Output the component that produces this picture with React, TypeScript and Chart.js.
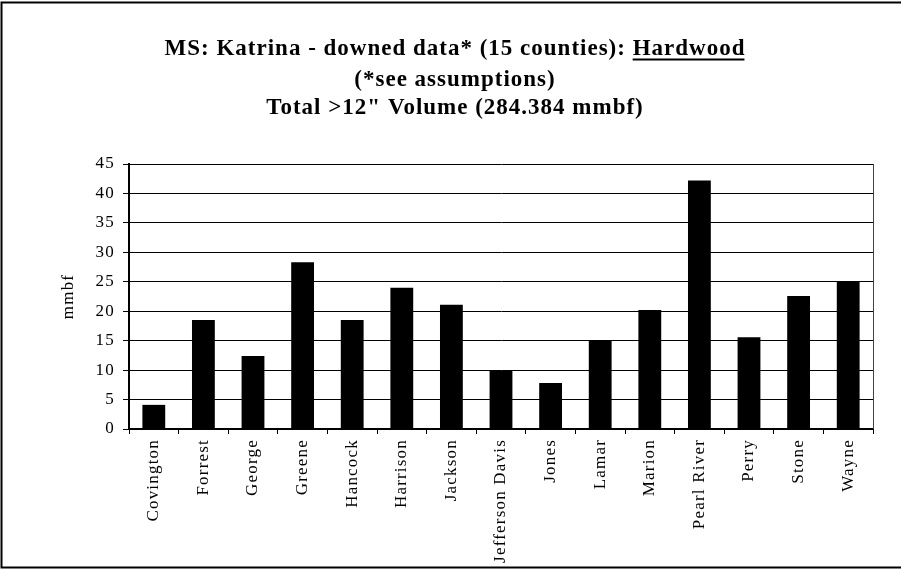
import React, { useEffect, useRef } from 'react';
import { Chart, registerables } from 'chart.js';

Chart.register(...registerables);

const categories = [
  'Covington', 'Forrest', 'George', 'Greene', 'Hancock', 'Harrison', 'Jackson',
  'Jefferson Davis', 'Jones', 'Lamar', 'Marion', 'Pearl River', 'Perry', 'Stone', 'Wayne',
];
const hardwoodMmbf = [4.1, 18.5, 12.4, 28.3, 18.5, 24.0, 21.1, 9.9, 7.8, 15.0, 20.2, 42.2, 15.6, 22.6, 25.1];
const yMin = 0;
const yMax = 45;
const yStep = 5;
const titlePrefix = 'MS: Katrina - downed data* (15 counties): ';
const titleUnderlined = 'Hardwood';
const titleLine2 = '(*see assumptions)';
const titleLine3 = 'Total >12" Volume (284.384 mmbf)';
const yAxisTitle = 'mmbf';

const SERIF = "'Liberation Serif', 'Times New Roman', serif";

const decorPlugin = {
  id: 'decor',
  beforeDraw(chart: any) {
    const ctx = chart.ctx;
    ctx.letterSpacing = '1.2px';
  },
  afterDraw(chart: any) {
    const ctx = chart.ctx;
    const { chartArea } = chart;
    ctx.save();
    // outer frame
    ctx.strokeStyle = '#000';
    ctx.lineWidth = 2;
    ctx.beginPath();
    ctx.moveTo(940, 2.5);
    ctx.lineTo(1.5, 2.5);
    ctx.lineTo(1.5, 567.5);
    ctx.lineTo(940, 567.5);
    ctx.stroke();
    // plot right border
    ctx.strokeStyle = '#444';
    ctx.lineWidth = 1;
    ctx.beginPath();
    ctx.moveTo(Math.round(chartArea.right) + 0.5, chartArea.top);
    ctx.lineTo(Math.round(chartArea.right) + 0.5, chartArea.bottom);
    ctx.stroke();
    // title
    ctx.letterSpacing = '1px';
    ctx.font = `bold 23px ${SERIF}`;
    ctx.fillStyle = '#000';
    ctx.textBaseline = 'alphabetic';
    ctx.textAlign = 'left';
    const cx = 455;
    const line1 = titlePrefix + titleUnderlined;
    const w1 = ctx.measureText(line1).width;
    const x1 = cx - w1 / 2;
    ctx.fillText(line1, x1, 55);
    const wPrefix = ctx.measureText(titlePrefix).width;
    const wU = ctx.measureText(titleUnderlined).width - 1;
    ctx.fillRect(x1 + wPrefix, 58.5, wU, 2);
    ctx.textAlign = 'center';
    ctx.fillText(titleLine2, cx, 86);
    ctx.fillText(titleLine3, cx, 114);
    ctx.restore();
  },
};

export default function App() {
  const ref = useRef<HTMLCanvasElement | null>(null);
  useEffect(() => {
    if (!ref.current) return;
    const chart = new Chart(ref.current, {
      type: 'bar',
      data: {
        labels: categories,
        datasets: [
          {
            data: hardwoodMmbf,
            backgroundColor: '#000',
            borderColor: '#000',
            borderWidth: 0,
            barPercentage: 0.46,
            categoryPercentage: 1,
          },
        ],
      },
      options: {
        responsive: false,
        animation: false,
        layout: { padding: { top: 164, right: 28, left: 0, bottom: 0 } },
        plugins: {
          legend: { display: false },
          title: { display: false },
          tooltip: { enabled: false },
        },
        scales: {
          x: {
            grid: {
              display: true,
              drawOnChartArea: false,
              drawTicks: true,
              tickLength: 5,
              color: '#000',
              offset: true,
            },
            border: { display: true, color: '#000', width: 2 },
            ticks: {
              autoSkip: false,
              maxRotation: 90,
              minRotation: 90,
              padding: 5,
              color: '#000',
              font: { family: SERIF, size: 17 },
            },
            afterFit(scale: any) {
              scale.height = 140;
            },
          },
          y: {
            min: yMin,
            max: yMax,
            grid: { color: '#000', lineWidth: 1, tickLength: 6, drawTicks: true },
            border: { display: true, color: '#000', width: 2 },
            ticks: {
              stepSize: yStep,
              padding: 8,
              color: '#000',
              font: { family: SERIF, size: 17 },
            },
            title: {
              display: true,
              text: yAxisTitle,
              color: '#000',
              font: { family: SERIF, size: 17 },
              padding: { top: 58, bottom: 0 },
            },
            afterFit(scale: any) {
              scale.width = 129;
            },
          },
        },
      },
      plugins: [decorPlugin],
    });
    return () => chart.destroy();
  }, []);
  return (
    <div style={{ position: 'absolute', left: 0, top: 0, width: 901, height: 569 }}>
      <canvas ref={ref} width={901} height={569} style={{ display: 'block' }} />
    </div>
  );
}
